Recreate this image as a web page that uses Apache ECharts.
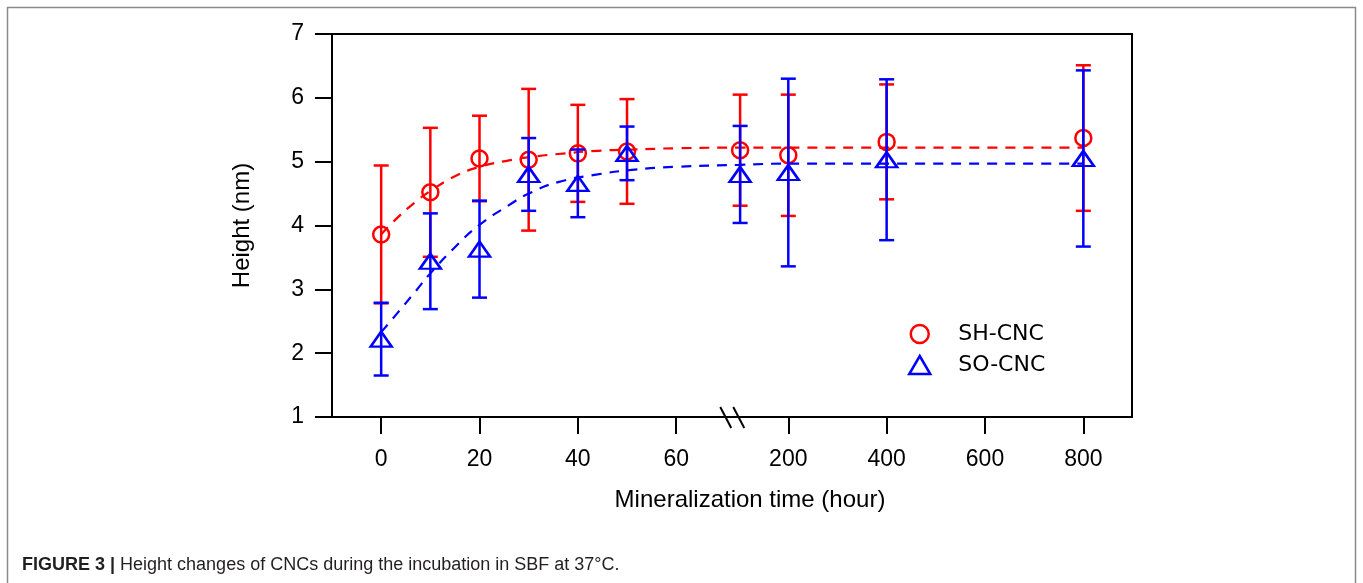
<!DOCTYPE html>
<html>
<head>
<meta charset="utf-8">
<style>
  html, body { margin: 0; padding: 0; background: #fff; }
  #main { width: 1363px; height: 583px; }
</style>
<script src="https://cdn.jsdelivr.net/npm/echarts@6/dist/echarts.min.js"></script>
</head>
<body>
<div id="main"></div>
<script>
// mineralization time of each measurement (hour)
const hours = [0, 10, 20, 30, 40, 50, 73, 200, 400, 800];
// SH-CNC mean height and error (nm)
const shMean = [3.86, 4.52, 5.05, 5.03, 5.13, 5.16, 5.18, 5.10, 5.31, 5.37];
const shErr = [1.08, 1.01, 0.67, 1.11, 0.76, 0.82, 0.87, 0.95, 0.90, 1.14];
// SO-CNC mean height and error (nm)
const soMean = [2.22, 3.44, 3.63, 4.80, 4.66, 5.13, 4.80, 4.83, 5.03, 5.05];
const soErr = [0.57, 0.75, 0.76, 0.57, 0.53, 0.42, 0.76, 1.47, 1.26, 1.38];
// dashed fitted curves
const fitHours = [0, 3, 7, 10, 15, 20, 26, 30, 36, 44, 51, 60, 73, 200, 400, 800];
const shFit = [3.86, 4.10, 4.37, 4.54, 4.77, 4.92, 5.02, 5.07, 5.12, 5.17, 5.19, 5.21, 5.22, 5.22, 5.22, 5.22];
const soFit = [2.33, 2.60, 2.97, 3.25, 3.66, 4.01, 4.32, 4.50, 4.68, 4.80, 4.87, 4.92, 4.95, 4.97, 4.97, 4.97];
// x tick labels
const xTicks = [0, 20, 40, 60, 200, 400, 600, 800];
const yTicks = [1, 2, 3, 4, 5, 6, 7];
// axis break position (hour, first segment)
const breakHour = 71.4;

// broken axis: 0..~75 h linear, then 200 h per 20 h step
function toU(t) {
  return t <= 100 ? t : 82.8 + (t - 200) / 10;
}

const RED = '#ff0000';
const BLUE = '#0000ff';

function errorBars(color) {
  return function (params, api) {
    const x = api.value(0), y = api.value(1), e = api.value(2);
    const top = api.coord([x, y + e]);
    const bot = api.coord([x, y - e]);
    const half = 7.5;
    const style = { stroke: color, lineWidth: 2.5 };
    return {
      type: 'group',
      children: [
        { type: 'line', shape: { x1: top[0], y1: top[1], x2: bot[0], y2: bot[1] }, style },
        { type: 'line', shape: { x1: top[0] - half, y1: top[1], x2: top[0] + half, y2: top[1] }, style },
        { type: 'line', shape: { x1: bot[0] - half, y1: bot[1], x2: bot[0] + half, y2: bot[1] }, style }
      ]
    };
  };
}

function breakMarks(params, api) {
  const p = api.coord([api.value(0), api.value(1)]);
  const style = { stroke: '#000', lineWidth: 2 };
  const kids = [-6.5, 6.5].map(function (dx) {
    return { type: 'line', shape: { x1: p[0] + dx - 5.5, y1: p[1] - 10, x2: p[0] + dx + 5.5, y2: p[1] + 11 }, style };
  });
  return { type: 'group', children: kids };
}

const chart = echarts.init(document.getElementById('main'));
const font = "'Liberation Sans', Arial, Helvetica, sans-serif";
const xTickU = xTicks.map(toU);

chart.setOption({
  animation: false,
  backgroundColor: '#fff',
  title: {
    left: 17,
    top: 551,
    text: '{b|FIGURE 3 |} Height changes of CNCs during the incubation in SBF at 37°C.',
    textStyle: {
      fontFamily: font,
      fontSize: 18,
      fontWeight: 'normal',
      color: '#231f20',
      rich: { b: { fontFamily: font, fontSize: 18, fontWeight: 'bold', color: '#231f20' } }
    }
  },
  graphic: [{
    type: 'rect',
    shape: { x: 7.5, y: 7.5, width: 1348, height: 620 },
    style: { fill: 'none', stroke: '#8a8a8a', lineWidth: 1.5 },
    silent: true
  }],
  legend: {
    orient: 'vertical',
    left: 903,
    top: 318,
    itemWidth: 21,
    itemHeight: 18,
    itemGap: 9,
    textStyle: { fontFamily: "'DejaVu Sans', sans-serif", fontSize: 22, color: '#000', padding: [0, 0, 0, 23] },
    data: [
      { name: 'SH-CNC', icon: 'circle', itemStyle: { color: 'rgba(0,0,0,0)', borderColor: RED, borderWidth: 2.5, opacity: 1 } },
      { name: 'SO-CNC', icon: 'triangle', itemStyle: { color: 'rgba(0,0,0,0)', borderColor: BLUE, borderWidth: 2.5, opacity: 1 } }
    ]
  },
  grid: {
    left: 332, top: 34, width: 800, height: 383,
    show: true, borderColor: '#000', borderWidth: 2, backgroundColor: 'transparent'
  },
  xAxis: {
    type: 'value',
    min: -10,
    max: 152.7,
    name: 'Mineralization time (hour)',
    nameLocation: 'middle',
    nameGap: 71,
    nameTextStyle: { fontFamily: font, fontSize: 24, color: '#000', padding: [0, 0, 0, 36] },
    axisLine: { show: true, onZero: false, lineStyle: { color: '#000', width: 2 } },
    axisTick: { show: true, inside: false, length: 17, customValues: xTickU, lineStyle: { color: '#000', width: 2 } },
    axisLabel: {
      show: true,
      customValues: xTickU,
      margin: 31,
      fontFamily: font,
      fontSize: 23,
      color: '#000',
      formatter: function (v) {
        const i = xTickU.findIndex(function (u) { return Math.abs(u - v) < 1e-6; });
        return i >= 0 ? String(xTicks[i]) : '';
      }
    },
    splitLine: { show: false }
  },
  yAxis: {
    type: 'value',
    min: yTicks[0],
    max: yTicks[yTicks.length - 1],
    interval: 1,
    name: 'Height (nm)',
    nameLocation: 'middle',
    nameGap: 78,
    nameTextStyle: { fontFamily: font, fontSize: 24, color: '#000' },
    axisLine: { show: true, onZero: false, lineStyle: { color: '#000', width: 2 } },
    axisTick: { show: true, inside: false, length: 17, lineStyle: { color: '#000', width: 2 } },
    axisLabel: { margin: 28, fontFamily: font, fontSize: 23, color: '#000' },
    splitLine: { show: false }
  },
  series: [
    {
      name: 'SH-CNC fit',
      type: 'line',
      data: fitHours.map(function (h, i) { return [toU(h), shFit[i]]; }),
      smooth: true,
      showSymbol: false,
      lineStyle: { color: RED, width: 2.2, type: [10, 8] },
      silent: true,
      z: 2
    },
    {
      name: 'SH-CNC err',
      type: 'custom',
      renderItem: errorBars(RED),
      encode: { x: 0, y: 1 },
      data: hours.map(function (h, i) { return [toU(h), shMean[i], shErr[i]]; }),
      silent: true,
      z: 3
    },
    {
      name: 'SH-CNC',
      type: 'scatter',
      symbol: 'circle',
      symbolSize: 16,
      data: hours.map(function (h, i) { return [toU(h), shMean[i]]; }),
      itemStyle: { color: 'rgba(0,0,0,0)', borderColor: RED, borderWidth: 2.5, opacity: 1 },
      z: 4
    },
    {
      name: 'SO-CNC fit',
      type: 'line',
      data: fitHours.map(function (h, i) { return [toU(h), soFit[i]]; }),
      smooth: true,
      showSymbol: false,
      lineStyle: { color: BLUE, width: 2.2, type: [10, 8] },
      silent: true,
      z: 5
    },
    {
      name: 'SO-CNC err',
      type: 'custom',
      renderItem: errorBars(BLUE),
      encode: { x: 0, y: 1 },
      data: hours.map(function (h, i) { return [toU(h), soMean[i], soErr[i]]; }),
      silent: true,
      z: 6
    },
    {
      name: 'SO-CNC',
      type: 'scatter',
      symbol: 'triangle',
      symbolSize: [21, 15],
      data: hours.map(function (h, i) { return [toU(h), soMean[i]]; }),
      itemStyle: { color: 'rgba(0,0,0,0)', borderColor: BLUE, borderWidth: 2.5, opacity: 1 },
      z: 7
    },
    {
      name: 'axis break',
      type: 'custom',
      renderItem: breakMarks,
      encode: { x: 0, y: 1 },
      data: [[breakHour, yTicks[0]]],
      clip: false,
      silent: true,
      z: 8
    }
  ]
});
</script>
</body>
</html>
